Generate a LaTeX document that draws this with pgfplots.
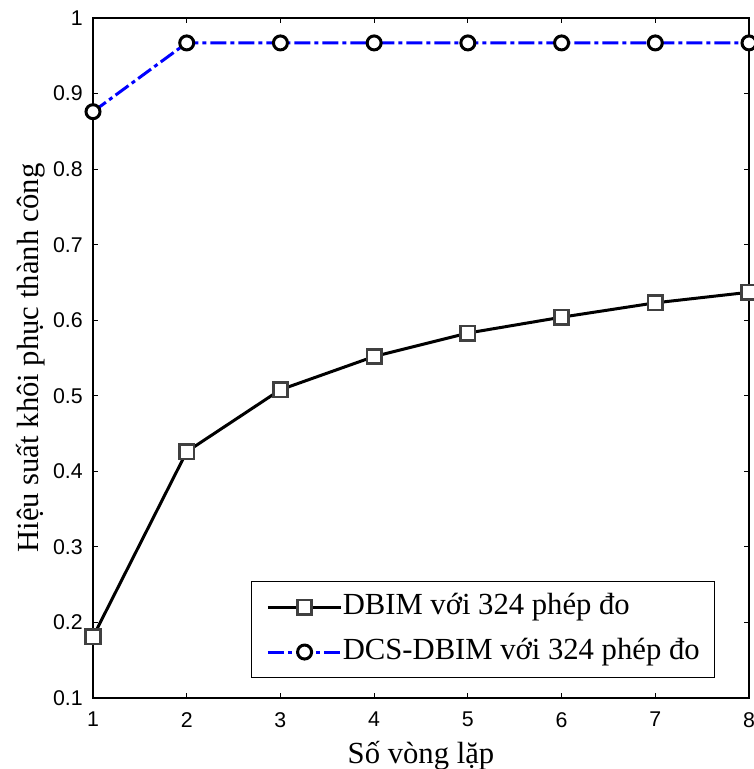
\documentclass[border=0pt]{standalone}
\usepackage{fontspec}
\setmainfont{Liberation Serif}
\newfontfamily\sansf{Liberation Sans}
\usepackage{graphicx}
\usepackage{pgfplots}
\pgfplotsset{compat=1.18}
\usetikzlibrary{calc}
\definecolor{mblue}{RGB}{0,0,255}
\definecolor{mgray}{RGB}{64,64,64}
\newcommand{\tl}[1]{\scalebox{1.6}{\sansf #1}}
\begin{document}
\begin{tikzpicture}
\begin{axis}[
  name=ax,
  scale only axis,
  width=492pt, height=510pt,
  xmin=1, xmax=8, ymin=0.1, ymax=1,
  xtick={1,2,3,4,5,6,7,8},
  xticklabels={\tl{1},\tl{2},\tl{3},\tl{4},\tl{5},\tl{6},\tl{7},\tl{8}},
  ytick={0.1,0.2,0.3,0.4,0.5,0.6,0.7,0.8,0.9,1},
  yticklabels={\tl{0.1},\tl{0.2},\tl{0.3},\tl{0.4},\tl{0.5},\tl{0.6},\tl{0.7},\tl{0.8},\tl{0.9},\tl{1}},
  tick align=inside,
  major tick length=3.75pt,
  tick style={black, line width=0.75pt},
  axis line style={black, line width=0.9pt},
  xticklabel style={inner sep=0pt, yshift=-10.5pt},
  yticklabel style={inner sep=0pt, xshift=-7.5pt},
  every axis x label/.style={at={(axis description cs:0.5,-0.0956)}, anchor=base},
  every axis y label/.style={at={(axis description cs:-0.0838,0.5)}, anchor=base, rotate=90},
  label style={font=\fontsize{23}{27}\selectfont},
  xlabel={Số vòng lặp},
  ylabel={Hiệu suất khôi phục thành công},
  legend style={
    at={(rel axis cs:0.948,0.0294)}, anchor=south east,
    draw=black, line width=0.75pt, fill=white,
    inner xsep=11pt, inner ysep=6.6pt,
    font=\fontsize{23}{27}\selectfont,
    nodes={inner xsep=0pt, inner ysep=2pt, text height=16pt, text depth=5pt},
    row sep=8.75pt,
  },
  legend cell align=left,
  legend image code/.code={%
    \draw[mark repeat=2,mark phase=2,#1] plot coordinates {(0pt,0pt) (27.5pt,0pt) (55pt,0pt)};},
]
\addplot[black, line width=2.25pt, mark=square*,
  mark options={solid, draw=mgray, fill=white, line width=2pt}, mark size=5.4pt]
  coordinates {(1,0.181) (2,0.426) (3,0.508) (4,0.552) (5,0.583) (6,0.604) (7,0.623) (8,0.637)};
\addlegendentry{DBIM với 324 phép đo}
\addplot[mblue, line width=2.25pt, line cap=butt, dash pattern=on 12pt off 3pt on 3pt off 3pt, mark=*,
  mark options={solid, draw=black, fill=white, line width=2.25pt}, mark size=5.25pt]
  coordinates {(1,0.876) (2,0.967) (3,0.967) (4,0.967) (5,0.967) (6,0.967) (7,0.967) (8,0.967)};
\addlegendentry{DCS-DBIM với 324 phép đo}
\end{axis}
\pgfresetboundingbox
\path[use as bounding box] ($(ax.south west)+(-69.75pt,-53.25pt)$) rectangle ($(ax.north east)+(3.75pt,13.5pt)$);
\end{tikzpicture}
\end{document}
